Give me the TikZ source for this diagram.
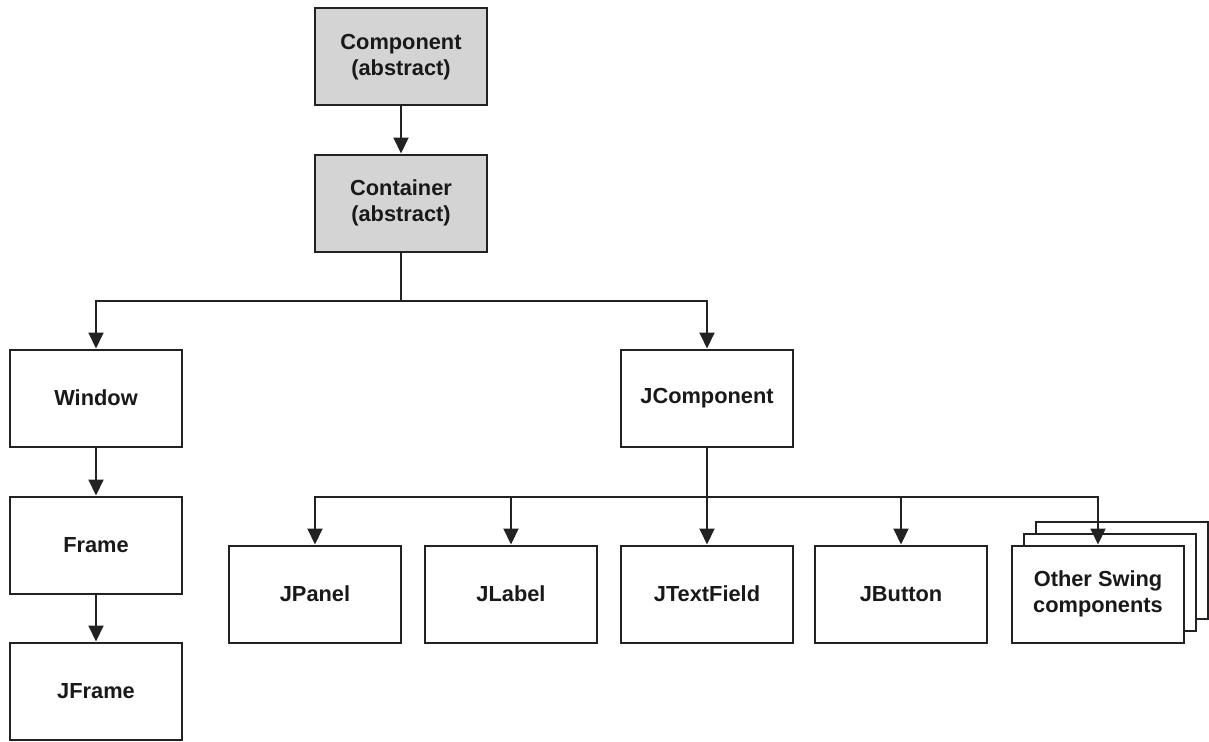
\documentclass[tikz,border=0pt]{standalone}
\usepackage{fontspec}
\setmainfont{Liberation Sans}
\usetikzlibrary{arrows.meta}
\definecolor{edge}{HTML}{222222}
\definecolor{absfill}{HTML}{D4D4D4}
\tikzset{
  cls/.style={draw=edge, line width=2pt, fill=white, minimum width=172pt, minimum height=97pt,
    inner sep=0pt, align=center, font=\fontsize{21.8}{26.5}\selectfont\bfseries, text=black!90},
  abscls/.style={cls, fill=absfill},
  link/.style={draw=edge, line width=2pt},
  arr/.style={link, -{Triangle[width=15pt,length=16pt]}}
}
\begin{document}
\begin{tikzpicture}[x=1pt,y=-1pt]
\useasboundingbox (0,0) rectangle (1209,741);
% abstract base classes
\node[abscls] (comp) at (401,57) {Component\\(abstract)};
\node[abscls] (cont) at (401,203) {Container\\(abstract)};
% top-level window branch
\node[cls] (win) at (96,398) {Window};
\node[cls] (frame) at (96,545) {Frame};
\node[cls] (jframe) at (96,691) {JFrame};
% lightweight Swing branch
\node[cls] (jcomp) at (707,398) {JComponent};
\node[cls] (jpanel) at (315,594) {JPanel};
\node[cls] (jlabel) at (511,594) {JLabel};
\node[cls] (jtext) at (707,594) {JTextField};
\node[cls] (jbutton) at (901,594) {JButton};
% stack of further components
\node[cls] (oth3) at (1122,570) {};
\node[cls] (oth2) at (1110,582) {};
\node[cls] (oth) at (1098,594) {Other Swing\\components};
% bus levels
\coordinate (bus1) at (0,301);
\coordinate (bus2) at (0,497);
% connectors
\draw[arr] (comp) -- (cont);
\draw[link] (cont.south) -- (cont.south |- bus1);
\draw[arr] (cont.south |- bus1) -| (win.north);
\draw[arr] (cont.south |- bus1) -| (jcomp.north);
\draw[arr] (win) -- (frame);
\draw[arr] (frame) -- (jframe);
\draw[arr] (jcomp.south) -- (jtext.north);
\draw[arr] (jcomp.south |- bus2) -| (jpanel.north);
\draw[arr] (jcomp.south |- bus2) -| (jlabel.north);
\draw[arr] (jcomp.south |- bus2) -| (jbutton.north);
\draw[arr] (jcomp.south |- bus2) -| (oth.north);
\end{tikzpicture}
\end{document}
